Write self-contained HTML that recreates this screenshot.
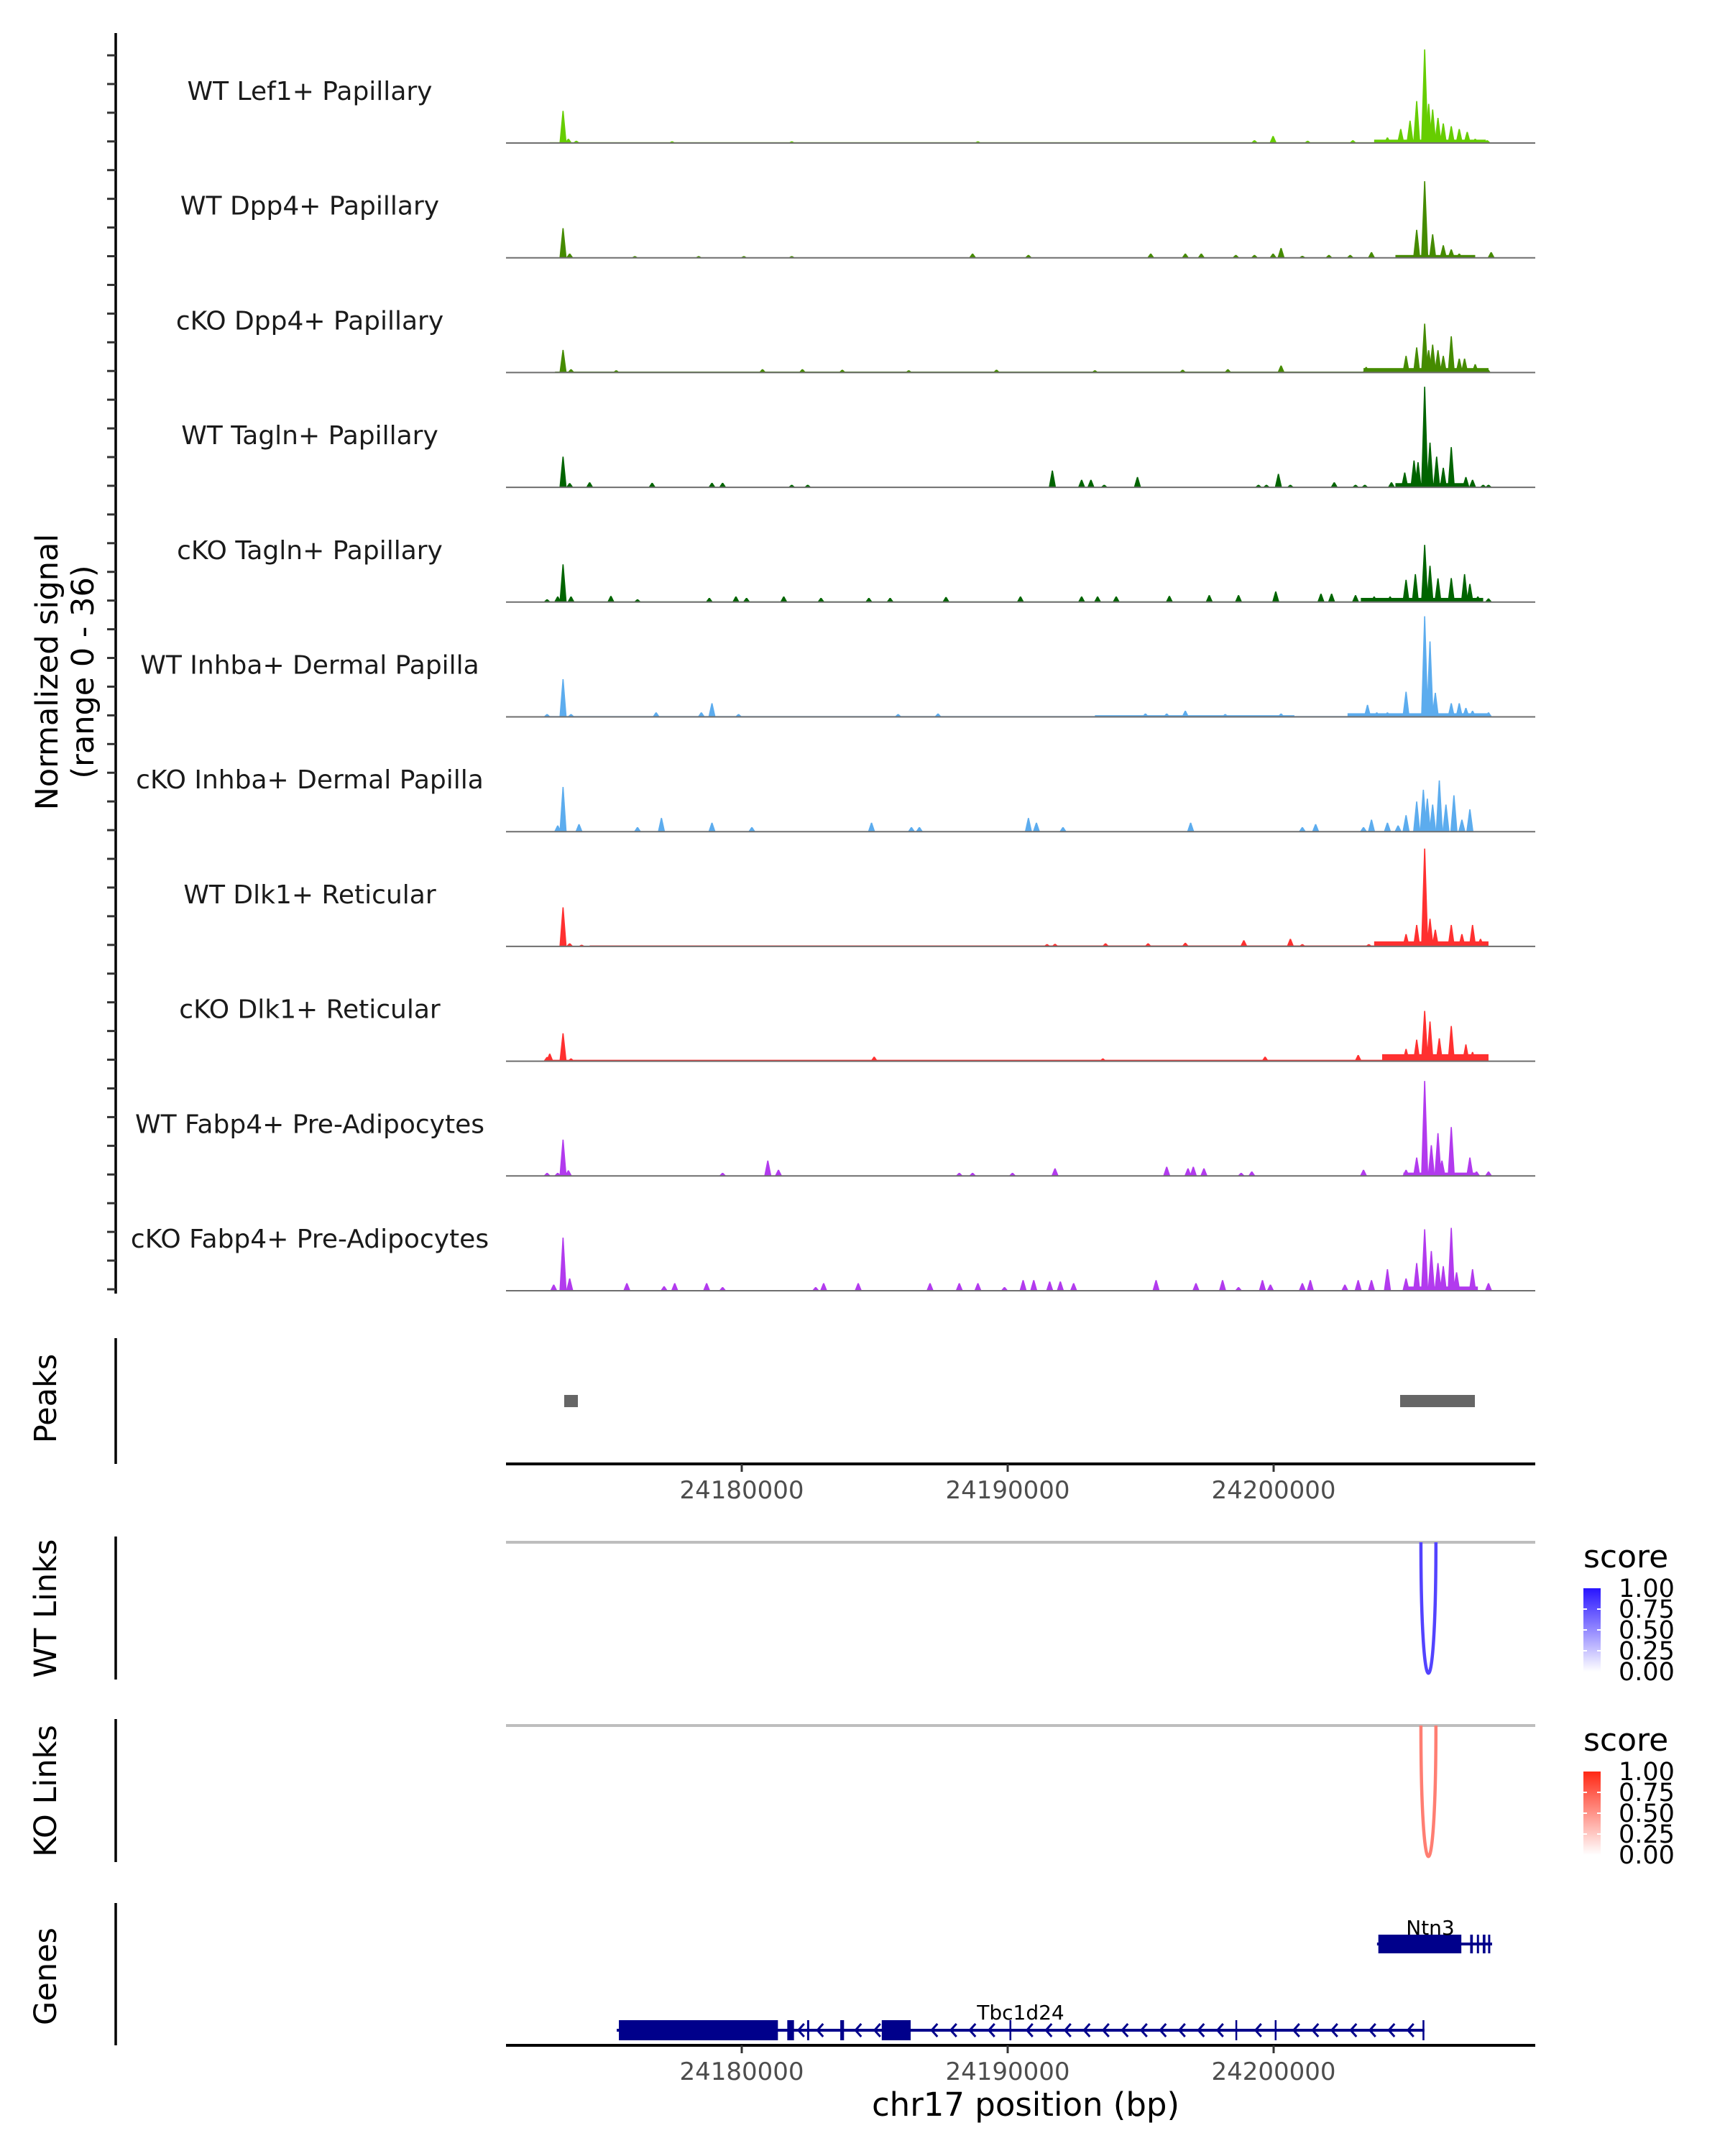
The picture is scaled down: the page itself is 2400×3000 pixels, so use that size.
<!DOCTYPE html>
<html><head><meta charset="utf-8"><style>
html,body{margin:0;padding:0;background:#fff}
svg{display:block}
text{font-family:"DejaVu Sans","Liberation Sans",sans-serif}
</style></head><body>
<svg id="fig" xmlns="http://www.w3.org/2000/svg" width="2400" height="3000" viewBox="0 0 2400 3000">
<rect width="2400" height="3000" fill="#fff"/>
<g id="tracks"></g>
<g id="left"></g>
<g id="peaks"></g>
<g id="links"></g>
<g id="genes"></g>
</svg>
<script>
// ---- data ----
const regionStart = 24171135, regionEnd = 24209838;
const kbOrigin = 24169780;
const xTicks = [24180000, 24190000, 24200000];
const xTickLabels = ["24180000", "24190000", "24200000"];
const signalMax = 36;
const trackNames = ["WT Lef1+ Papillary","WT Dpp4+ Papillary","cKO Dpp4+ Papillary","WT Tagln+ Papillary","cKO Tagln+ Papillary","WT Inhba+ Dermal Papilla","cKO Inhba+ Dermal Papilla","WT Dlk1+ Reticular","cKO Dlk1+ Reticular","WT Fabp4+ Pre-Adipocytes","cKO Fabp4+ Pre-Adipocytes"];
const trackColors = ["#66CD00","#458B00","#458B00","#006400","#006400","#5CACEE","#5CACEE","#FF3030","#FF3030","#B23AEE","#B23AEE"];
// peak positions in kb relative to kbOrigin, heights in signal units
const sigLef1WT = [[3.5,11.5],[3.7,1.5],[4.0,0.8],[7.6,0.6],[12.1,0.6],[19.1,0.6],[29.5,1],[30.2,2.5],[31.5,0.8],[33.2,1],[34.5,2],[35.0,5],[35.35,8],[35.6,15],[35.9,33.5],[36.05,14],[36.2,12],[36.4,9],[36.6,7],[36.9,6],[37.2,5],[37.5,4],[37.8,1.5],[38.25,1]];
const sigDpp4WT = [[3.5,10.6],[3.75,1.5],[6.2,0.6],[8.6,0.6],[10.3,0.6],[12.1,0.6],[18.9,1.5],[21.0,1],[25.6,1.5],[26.9,1.5],[27.5,1.5],[28.8,1],[29.5,1],[30.2,1.5],[30.5,3.5],[31.3,0.7],[32.3,1],[33.1,1],[33.9,2],[35.6,10],[35.9,27.4],[36.2,8.4],[36.6,4.5],[36.9,3],[37.2,1.5],[38.4,2]];
const sigDpp4KO = [[3.5,8.1],[3.8,1.2],[5.5,0.8],[11.0,1.2],[12.5,1.2],[14.0,1],[16.5,0.8],[19.8,1],[23.5,0.8],[26.8,1],[28.5,1.2],[30.5,2.5],[33.7,2],[34.1,1.5],[35.2,6],[35.6,9],[35.9,17.5],[36.05,8],[36.2,10],[36.4,8],[36.6,6],[36.9,13],[37.2,5],[37.4,5],[37.8,3],[38.25,1.5]];
const sigTaglnWT = [[3.5,11],[3.75,1.5],[4.5,1.8],[6.85,1.6],[9.1,1.6],[9.5,1.6],[12.1,0.9],[12.7,0.9],[21.9,6],[23.0,2.7],[23.35,2.7],[23.85,0.9],[25.1,3.7],[29.65,0.9],[29.95,0.9],[30.4,4.8],[30.85,0.9],[32.5,1.8],[33.3,0.9],[33.65,0.9],[34.65,1.8],[35.15,5.3],[35.5,9.6],[35.65,9],[35.9,36],[36.1,16],[36.35,11],[36.6,7],[36.9,14.4],[37.45,3.7],[37.7,2.7],[38.1,0.9],[38.3,0.9]];
const sigTaglnKO = [[2.9,1],[3.3,2],[3.5,13.5],[3.8,2],[5.3,2.2],[6.3,1],[9.0,1.5],[10.0,2],[10.4,1.5],[11.8,2],[13.2,1.5],[15.0,1.5],[15.8,1.5],[17.9,1.8],[20.7,2],[23.0,2],[23.6,2],[24.3,2],[26.3,2.2],[27.8,2.5],[28.9,2.5],[30.3,3.8],[32.0,3],[32.4,3],[33.3,2.5],[34.0,2],[34.6,2],[35.2,8],[35.55,10],[35.9,20.5],[36.1,13],[36.4,8.5],[36.9,8.6],[37.4,10],[37.6,6.5],[37.9,2],[38.3,1.3]];
const sigInhbaWT = [[2.9,1],[3.5,13.5],[3.8,1],[7.0,1.6],[8.7,1.6],[9.1,4.9],[10.1,1],[16.1,1],[17.6,1.2],[25.4,1.2],[26.2,1.2],[26.9,2.2],[28.4,1],[30.5,1.2],[33.75,4.3],[34.1,1.6],[34.5,1.6],[35.2,9],[35.9,36],[36.1,27],[36.3,8.6],[36.9,4.9],[37.2,4.9],[37.45,3.2],[37.7,2.2],[38.3,1.6]];
const sigInhbaKO = [[3.3,2.2],[3.5,16],[4.1,2.7],[6.3,1.6],[7.2,4.9],[9.1,3.2],[10.6,1.6],[15.1,3.2],[16.6,1.6],[16.9,1.6],[21.0,4.9],[21.3,3.2],[22.3,1.6],[27.1,3.2],[31.3,1.6],[31.8,2.7],[33.6,1.6],[33.9,4.3],[34.5,3.2],[34.9,2.2],[35.2,5.9],[35.6,10.8],[35.85,15],[36.0,11.8],[36.2,9.7],[36.45,18.3],[36.7,9.7],[37.0,13],[37.3,4.3],[37.6,8]];
const sigDlk1WT = [[3.5,14],[3.75,1.1],[4.2,0.6],[21.7,0.8],[22.0,0.9],[23.9,1.1],[25.5,1.1],[26.9,1.3],[29.1,2.2],[30.85,2.7],[31.3,0.8],[33.8,0.8],[34.5,1.2],[35.2,4.4],[35.6,7.7],[35.9,35],[36.1,9.9],[36.3,6],[36.9,7.7],[37.3,4.4],[37.7,7.7],[38.0,2.7]];
const sigDlk1KO = [[2.9,1.5],[3.0,2.7],[3.5,10],[3.8,1],[15.2,1.6],[23.8,1],[29.9,1.6],[33.4,2.2],[34.6,1.6],[35.2,4.4],[35.6,7.7],[35.9,18],[36.1,14.2],[36.45,8.2],[36.9,12.6],[37.45,6],[37.7,3.3]];
const sigFabp4WT = [[2.9,1.1],[3.3,1.1],[3.5,13],[3.7,2],[9.5,1.1],[11.2,5.5],[11.6,2.2],[18.4,1.1],[18.9,1.1],[20.4,1.1],[22.0,2.7],[26.2,3.3],[27.0,2.7],[27.2,3.3],[27.6,2.7],[29.0,1.1],[29.4,1.6],[33.6,2.2],[35.2,2.2],[35.6,6.6],[35.9,34],[36.15,11],[36.4,15.3],[36.55,5.5],[36.9,17.5],[37.6,6.6],[37.85,1.6],[38.3,1.6]];
const sigFabp4KO = [[3.15,2.2],[3.5,19],[3.75,4.4],[5.9,2.7],[7.3,1.6],[7.7,2.7],[8.9,2.7],[9.5,1.3],[13.0,1.3],[13.3,2.7],[14.6,2.7],[17.3,2.7],[18.4,2.7],[19.1,2.7],[20.1,1.3],[20.8,3.8],[21.2,3.8],[21.8,3.3],[22.2,3.3],[22.7,2.7],[25.8,3.8],[27.3,2.7],[28.3,3.8],[28.9,1.3],[29.8,3.8],[30.1,2.2],[31.3,2.7],[31.6,3.8],[32.9,2.2],[33.4,3.8],[33.9,3.8],[34.5,7.7],[35.2,4.4],[35.6,9.9],[35.9,22],[36.15,14.2],[36.4,9.9],[36.6,8.8],[36.9,22.5],[37.1,6.6],[37.7,7.7],[38.3,2.7]];
const trackSignals = [sigLef1WT,sigDpp4WT,sigDpp4KO,sigTaglnWT,sigTaglnKO,sigInhbaWT,sigInhbaKO,sigDlk1WT,sigDlk1KO,sigFabp4WT,sigFabp4KO];
// low background [startKb, endKb, level]
const floorLef1WT=[[3,38.3,0.3],[34,38.2,1.2]], floorDpp4WT=[[34.8,37.8,1]], floorDpp4KO=[[3.2,33.6,0.35],[33.6,38.3,1.6]], floorTaglnWT=[[34.8,37.5,1.5]], floorTaglnKO=[[3,38.3,0.25],[33.5,38.1,1.5]], floorInhbaWT=[[3,38.3,0.3],[23.5,31,0.6],[33,38.3,1.3]], floorInhbaKO=[], floorDlk1WT=[[4.5,34,0.35],[34,38.3,1.8]], floorDlk1KO=[[2.9,38.3,0.5],[34.3,38.3,2.5]], floorFabp4WT=[[35.1,37.9,1.2]], floorFabp4KO=[[35.1,37.9,1.5]];
const trackFloors=[floorLef1WT,floorDpp4WT,floorDpp4KO,floorTaglnWT,floorTaglnKO,floorInhbaWT,floorInhbaKO,floorDlk1WT,floorDlk1KO,floorFabp4WT,floorFabp4KO];
const peakRegions = [[24173324,24173838],[24204757,24207568]];
const wtLinks = [[24205539,24206103,0.8]];
const koLinks = [[24205539,24206103,0.6]];
const legendBreaks = [1.00,0.75,0.50,0.25,0.00];
const legendLabels = ["1.00","0.75","0.50","0.25","0.00"];
const ntn3Exons = [[24203938,24207059],[24207391,24207492],[24207643,24207723],[24207864,24207965],[24208065,24208146]];
const ntn3Span = [24203888,24208216];
const tbcExons = [[24175380,24181360],[24181712,24181964],[24182457,24182537],[24183705,24183846],[24185265,24186352],[24190067,24190137],[24198563,24198623],[24200042,24200102],[24205599,24205669]];
const tbcSpan = [24175300,24205669];

// ---- scales ----
const X0=704, X1=2136;
function x(bp){return X0+(bp-regionStart)/(regionEnd-regionStart)*(X1-X0);}
function kbx(kb){return x(kbOrigin+kb*1000);}
const TRACK_BASE0=199, TRACK_STEP=159.7, TRACK_H=140;
function ySig(v,base){return base - Math.min(v,signalMax)/signalMax*TRACK_H;}
const NS="http://www.w3.org/2000/svg";
function el(tag,attrs,parent){const e=document.createElementNS(NS,tag);for(const k in attrs)e.setAttribute(k,attrs[k]);parent.appendChild(e);return e;}

// ---- coverage tracks ----
const gT=document.getElementById('tracks');
trackNames.forEach((name,i)=>{
  const base=TRACK_BASE0+TRACK_STEP*i;
  const g=el('g',{},gT);
  
  
  const lab=el('text',{x:431,y:base-60,'text-anchor':'middle','font-size':36,fill:'#1a1a1a'},g);
  lab.textContent=name;
  
  
  trackFloors[i].forEach(f=>{
    const r=el('rect',{x:kbx(f[0]),y:ySig(f[2],base),width:kbx(f[1])-kbx(f[0]),height:base-ySig(f[2],base),fill:trackColors[i]},g);
    
    
  });
  trackSignals[i].forEach(p=>{
    const cx=kbx(p[0]), hw=5;
    const poly=el('polygon',{points:`${cx-hw},${base} ${cx-0.8},${ySig(p[1],base)} ${cx+0.8},${ySig(p[1],base)} ${cx+hw},${base}`,fill:trackColors[i]},g);
    
    
  });
  const bl=el('line',{x1:X0,x2:X1,y1:base,y2:base,stroke:'#6e6e6e','stroke-width':2},g);
  
  
});

// ---- left axes ----
const gL=document.getElementById('left');
el('line',{x1:161,x2:161,y1:46,y2:1800,stroke:'#000','stroke-width':3.5},gL);
for(let yy=77; yy<1800; yy+=39.93){el('line',{x1:149,x2:161,y1:yy,y2:yy,stroke:'#333','stroke-width':3},gL);}
const yt=el('text',{transform:'translate(80,935) rotate(-90)','text-anchor':'middle','font-size':43,fill:'#000'},gL);


el('tspan',{x:0,dy:0},yt).textContent='Normalized signal';
el('tspan',{x:0,dy:50},yt).textContent='(range 0 - 36)';
function sideTitle(txt,cy,y1,y2,name){
  el('line',{x1:161,x2:161,y1:y1,y2:y2,stroke:'#000','stroke-width':3.5},gL);
  const t=el('text',{transform:`translate(78,${cy}) rotate(-90)`,'text-anchor':'middle','font-size':43,fill:'#000'},gL);
  t.textContent=txt;
  
  
}
sideTitle('Peaks',1946,1862,2037,'peaks-title');
sideTitle('WT Links',2238,2138,2337,'wt-links-title');
sideTitle('KO Links',2492,2392,2591,'ko-links-title');
sideTitle('Genes',2750,2648,2846,'genes-title');

function xAxis(g,y,withTitle){
  el('line',{x1:X0,x2:X1,y1:y,y2:y,stroke:'#000','stroke-width':4},g);
  xTicks.forEach((t,i)=>{
    el('line',{x1:x(t),x2:x(t),y1:y,y2:y+11,stroke:'#333','stroke-width':3},g);
    const tl=el('text',{x:x(t),y:y+48,'text-anchor':'middle','font-size':34,fill:'#4d4d4d'},g);
    tl.textContent=xTickLabels[i];
    
    
  });
  if(withTitle){
    const tt=el('text',{x:1427,y:y+98,'text-anchor':'middle','font-size':45,fill:'#000'},g);
    tt.textContent='chr17 position (bp)';
    
    
  }
}

// ---- peaks ----
const gP=document.getElementById('peaks');
peakRegions.forEach(p=>{
  const r=el('rect',{x:x(p[0]),y:1941,width:x(p[1])-x(p[0]),height:17,fill:'#666'},gP);
  
  
});
xAxis(gP,2037,false);

// ---- links ----
const gK=document.getElementById('links');
function lerp(a,b,t){return Math.round(a+(b-a)*t);}
function linkPanel(links,top,hue,name){
  const g=el('g',{},gK);
  
  
  el('line',{x1:X0,x2:X1,y1:top,y2:top,stroke:'#bebebe','stroke-width':4},g);
  links.forEach(l=>{
    const x1=x(l[0]),x2=x(l[1]),d=243;
    const c=`rgb(${lerp(255,hue[0],l[2])},${lerp(255,hue[1],l[2])},${lerp(255,hue[2],l[2])})`;
    const p=el('path',{d:`M${x1},${top} C${x1},${top+d} ${x2},${top+d} ${x2},${top}`,fill:'none',stroke:c,'stroke-width':4.5},g);
    
    
  });
  const ly=top+35;
  const st=el('text',{x:2203,y:ly,'font-size':44,fill:'#000'},g);
  st.textContent='score';
  
  
  const gid='grad'+name;
  const defs=el('defs',{},g);
  const lg=el('linearGradient',{id:gid,x1:0,y1:1,x2:0,y2:0},defs);
  el('stop',{offset:'0',"stop-color":'#fff'},lg);
  el('stop',{offset:'1',"stop-color":`rgb(${hue[0]},${hue[1]},${hue[2]})`},lg);
  const barTop=top+64, barBot=top+180;
  const bar=el('rect',{x:2203,y:barTop,width:24,height:barBot-barTop,fill:`url(#${gid})`},g);
  
  
  legendBreaks.forEach((b,i)=>{
    const yy=barBot-b*(barBot-barTop);
    if(b>0&&b<1){el('line',{x1:2203,x2:2208,y1:yy,y2:yy,stroke:'#fff','stroke-width':2},g);el('line',{x1:2222,x2:2227,y1:yy,y2:yy,stroke:'#fff','stroke-width':2},g);}
    const t=el('text',{x:2252,y:yy+12,'font-size':35,fill:'#000'},g);
    t.textContent=legendLabels[i];
    
    
  });
}
linkPanel(wtLinks,2146,[40,20,255],'wt-links');
linkPanel(koLinks,2401,[255,40,20],'ko-links');

// ---- genes ----
const gG=document.getElementById('genes');
const GC='#00008B';
function gene(span,exons,yMid,h,label,lx,ly,name){
  const g=el('g',{},gG);
  
  
  el('line',{x1:x(span[0]),x2:x(span[1]),y1:yMid,y2:yMid,stroke:GC,'stroke-width':4},g);
  for(let xx=x(span[1])-20; xx>x(span[0])+10; xx-=26.5){
    const inExon=exons.some(e=>xx>x(e[0])-6&&xx<x(e[1])+8);
    if(inExon) continue;
    el('polyline',{points:`${xx+5},${yMid-9} ${xx-3},${yMid} ${xx+5},${yMid+9}`,fill:'none',stroke:GC,'stroke-width':3},g);
  }
  exons.forEach(e=>{
    const w=Math.max(x(e[1])-x(e[0]),2.5);
    const r=el('rect',{x:x(e[0]),y:yMid-h/2,width:w,height:h,fill:GC},g);
    
    
  });
  const t=el('text',{x:lx,y:ly,'text-anchor':'middle','font-size':28,fill:'#000'},g);
  t.textContent=label;
  
  
}
gene(ntn3Span,ntn3Exons,2705,26,'Ntn3',1990,2692,'gene-ntn3');
gene(tbcSpan,tbcExons,2825,28,'Tbc1d24',1420,2810,'gene-tbc1d24');
xAxis(gG,2846,true);
</script>
</body></html>
